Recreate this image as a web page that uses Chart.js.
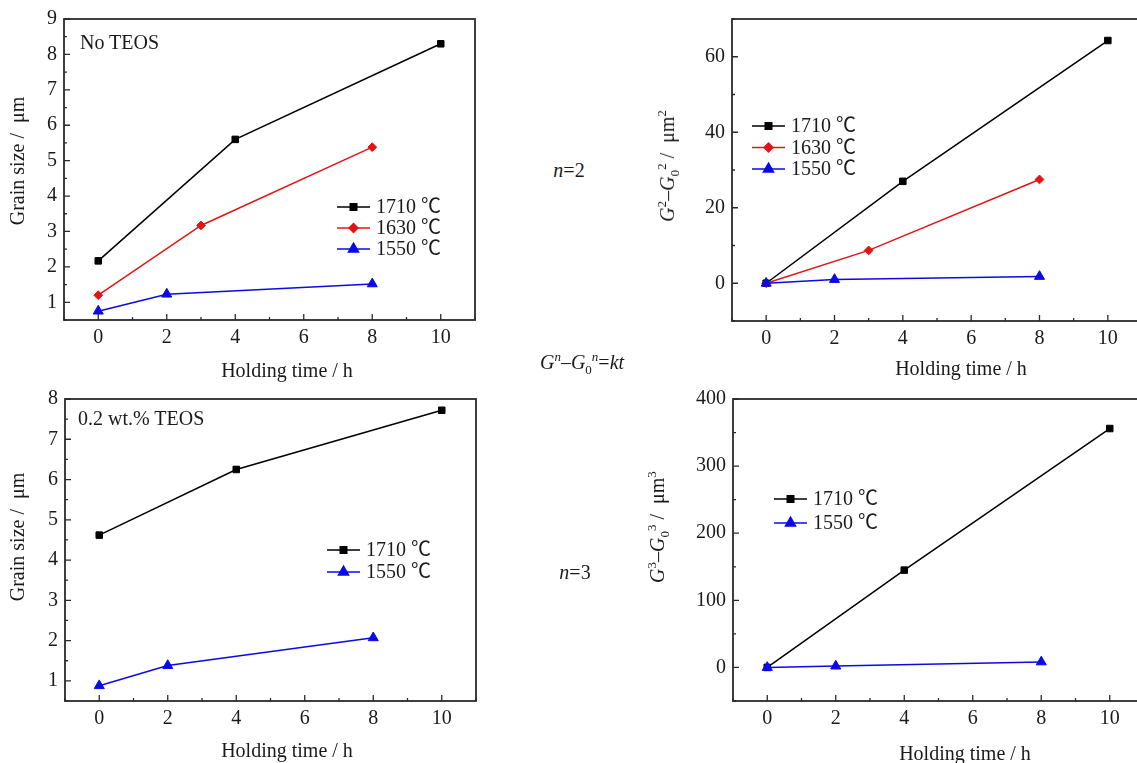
<!DOCTYPE html>
<html>
<head>
<meta charset="utf-8">
<script src="https://cdn.jsdelivr.net/npm/chart.js@4/dist/chart.umd.min.js"></script>
<style>
  html, body { margin: 0; padding: 0; background: #fff; }
  body { position: relative; width: 1137px; height: 763px; overflow: hidden; }
  canvas { position: absolute; }
  .lbl { position: absolute; font: 20px "Liberation Serif", "Noto Sans CJK SC", serif; color: #1a1a1a;
         white-space: nowrap; transform: translate(-50%, -50%); line-height: 1; }
  .rot { transform: translate(-50%, -50%) rotate(-90deg); }
  .left { transform: translate(0, -50%); }
  sup, sub { font-size: 13px; line-height: 0; }
</style>
</head>
<body>
<canvas id="c1" width="490" height="385" style="left:0;top:0"></canvas>
<canvas id="c2" width="520" height="385" style="left:640px;top:0"></canvas>
<canvas id="c3" width="490" height="383" style="left:0;top:380px"></canvas>
<canvas id="c4" width="520" height="383" style="left:640px;top:380px"></canvas>

<!-- axis titles / annotations -->
<div class="lbl rot" style="left:17px;top:161px">Grain size /&nbsp; μm</div>
<div class="lbl rot" style="left:17px;top:537px">Grain size /&nbsp; μm</div>
<div class="lbl rot" style="left:667px;top:166px"><i>G</i><sup>2</sup>–<i>G</i><sub>0</sub><sup>2</sup> /&nbsp; μm<sup>2</sup></div>
<div class="lbl rot" style="left:657px;top:527px"><i>G</i><sup>3</sup>–<i>G</i><sub>0</sub><sup>3</sup> /&nbsp; μm<sup>3</sup></div>
<div class="lbl" style="left:287px;top:370px">Holding time / h</div>
<div class="lbl" style="left:961px;top:368px">Holding time / h</div>
<div class="lbl" style="left:287px;top:750px">Holding time / h</div>
<div class="lbl" style="left:965px;top:753px">Holding time / h</div>
<div class="lbl left" style="left:80px;top:42px">No TEOS</div>
<div class="lbl left" style="left:78px;top:418px">0.2 wt.% TEOS</div>
<div class="lbl" style="left:569px;top:170px"><i>n</i>=2</div>
<div class="lbl" style="left:582px;top:362px"><i>G</i><sup><i>n</i></sup>–<i>G</i><sub>0</sub><sup><i>n</i></sup>=<i>kt</i></div>
<div class="lbl" style="left:575px;top:572px"><i>n</i>=3</div>

<script>
// ═══════════════════════════════════════════════════════════════
//  DATA
// ═══════════════════════════════════════════════════════════════

// top-left: grain size, no TEOS
const T1_1710 = [0, 4, 10], G1_1710 = [2.17, 5.6, 8.3];
const T1_1630 = [0, 3, 8],  G1_1630 = [1.2, 3.17, 5.38];
const T1_1550 = [0, 2, 8],  G1_1550 = [0.75, 1.23, 1.52];

// top-right: G^2 - G0^2
const T2_1710 = [0, 4, 10], D2_1710 = [0, 27, 64.3];
const T2_1630 = [0, 3, 8],  D2_1630 = [0, 8.7, 27.5];
const T2_1550 = [0, 2, 8],  D2_1550 = [0, 1.0, 1.8];

// bottom-left: grain size, 0.2 wt.% TEOS
const T3_1710 = [0, 4, 10], G3_1710 = [4.62, 6.25, 7.72];
const T3_1550 = [0, 2, 8],  G3_1550 = [0.88, 1.38, 2.07];

// bottom-right: G^3 - G0^3
const T4_1710 = [0, 4, 10], D4_1710 = [0, 145, 356];
const T4_1550 = [0, 2, 8],  D4_1550 = [0, 2.0, 8.2];

const X_TICKS  = [0, 2, 4, 6, 8, 10];
const Y1_TICKS = [1, 2, 3, 4, 5, 6, 7, 8, 9];
const Y2_TICKS = [0, 20, 40, 60];
const Y3_TICKS = [1, 2, 3, 4, 5, 6, 7, 8];
const Y4_TICKS = [0, 100, 200, 300, 400];

const LBL_1710 = '1710 ℃';
const LBL_1630 = '1630 ℃';
const LBL_1550 = '1550 ℃';

// ═══════════════════════════════════════════════════════════════
//  STYLES
// ═══════════════════════════════════════════════════════════════

const FONT     = '"Liberation Serif", "Noto Sans CJK SC", serif';
const INK      = '#1a1a1a';
const FRAME    = '#2a2a2a';

const S_1710 = { color: '#000000', pointStyle: 'rect',     pointRadius: 4.6, order: 3 };
const S_1630 = { color: '#e41414', pointStyle: 'rectRot',  pointRadius: 4.4, order: 2 };
const S_1550 = { color: '#0a0ae6', pointStyle: 'triangle', pointRadius: 5.8, order: 1 };

const pts = (xs, ys) => xs.map((x, i) => ({ x, y: ys[i] }));

function series(label, xs, ys, s) {
  return {
    label, data: pts(xs, ys), order: s.order,
    borderColor: s.color, backgroundColor: s.color, borderWidth: 1.5,
    pointStyle: s.pointStyle, pointRadius: s.pointRadius, pointBorderWidth: 1,
    pointBackgroundColor: s.color, pointBorderColor: s.color, tension: 0,
  };
}

// ── frame + inward ticks ─────────────────────────────────────
const framePlugin = {
  id: 'frame',
  afterDraw(chart, args, o) {
    const { ctx, chartArea: a, scales: { x, y } } = chart;
    ctx.save();
    ctx.strokeStyle = FRAME;
    ctx.lineWidth = 1.8;
    ctx.strokeRect(a.left, a.top, a.right - a.left, a.bottom - a.top);
    ctx.lineWidth = 1.3;
    ctx.beginPath();
    for (let v = Math.ceil(x.min / o.xMinor) * o.xMinor; v <= x.max; v += o.xMinor) {
      const px = x.getPixelForValue(v);
      const len = o.xTicks.includes(v) ? 6 : 3;
      ctx.moveTo(px, a.bottom); ctx.lineTo(px, a.bottom - len);
    }
    for (let v = Math.ceil(y.min / o.yMinor) * o.yMinor; v <= y.max + 1e-9; v += o.yMinor) {
      const py = y.getPixelForValue(v);
      const len = o.yTicks.some(t => Math.abs(t - v) < 1e-9) ? 6 : 3;
      ctx.moveTo(a.left, py); ctx.lineTo(a.left + len, py);
    }
    ctx.stroke();
    ctx.restore();
  }
};

// ── legend drawn inside the plot ─────────────────────────────
const inlineLegend = {
  id: 'inlineLegend',
  afterDraw(chart, args, o) {
    const { ctx } = chart;
    ctx.save();
    ctx.font = '20px ' + FONT;
    ctx.textBaseline = 'middle';
    chart.data.datasets.forEach((ds, i) => {
      const yy = o.y + i * o.gap;
      ctx.strokeStyle = ds.borderColor;
      ctx.lineWidth = 1.5;
      ctx.beginPath(); ctx.moveTo(o.x, yy); ctx.lineTo(o.x + 33, yy); ctx.stroke();
      ctx.fillStyle = ds.backgroundColor;
      Chart.helpers.drawPoint(ctx, { pointStyle: ds.pointStyle, radius: ds.pointRadius, borderWidth: 1, rotation: 0 }, o.x + 16.5, yy);
      ctx.fillStyle = INK;
      ctx.fillText(ds.label, o.x + 39, yy + 1);
    });
    ctx.restore();
  }
};

// ═══════════════════════════════════════════════════════════════
//  CHART FACTORY
// ═══════════════════════════════════════════════════════════════

function makeChart(id, cfg) {
  return new Chart(document.getElementById(id), {
    type: 'line',
    data: { datasets: cfg.datasets },
    plugins: [framePlugin, inlineLegend],
    options: {
      responsive: false, animation: false,
      layout: { padding: { left: 0, top: 19, right: cfg.padRight, bottom: 0 } },
      plugins: {
        legend: { display: false }, tooltip: { enabled: false },
        frame: { xTicks: X_TICKS, yTicks: cfg.yTicks, xMinor: 1, yMinor: cfg.yMinor },
        inlineLegend: cfg.legend,
      },
      scales: {
        x: {
          type: 'linear', min: -1, max: 11,
          grid: { display: false, drawTicks: false }, border: { display: false },
          ticks: { color: INK, font: { family: FONT, size: 20 }, padding: 6, maxRotation: 0 },
          afterBuildTicks: s => { s.ticks = X_TICKS.map(v => ({ value: v })); },
          afterFit: s => { s.height = cfg.xH; },
        },
        y: {
          min: cfg.yMin, max: cfg.yMax,
          grid: { display: false, drawTicks: false }, border: { display: false },
          ticks: { color: INK, font: { family: FONT, size: 20 }, padding: 7 },
          afterBuildTicks: s => { s.ticks = cfg.yTicks.map(v => ({ value: v })); },
          afterFit: s => { s.width = cfg.yW; },
        }
      }
    }
  });
}

// ═══════════════════════════════════════════════════════════════
//  CHARTS
// ═══════════════════════════════════════════════════════════════

makeChart('c1', {
  datasets: [
    series(LBL_1710, T1_1710, G1_1710, S_1710),
    series(LBL_1630, T1_1630, G1_1630, S_1630),
    series(LBL_1550, T1_1550, G1_1550, S_1550),
  ],
  yMin: 0.5, yMax: 9, yTicks: Y1_TICKS, yMinor: 0.5,
  yW: 64, xH: 65, padRight: 15,
  legend: { x: 337, y: 207, gap: 21 },
});

makeChart('c2', {
  datasets: [
    series(LBL_1710, T2_1710, D2_1710, S_1710),
    series(LBL_1630, T2_1630, D2_1630, S_1630),
    series(LBL_1550, T2_1550, D2_1550, S_1550),
  ],
  yMin: -10, yMax: 70, yTicks: Y2_TICKS, yMinor: 10,
  yW: 92, xH: 64, padRight: 18,
  legend: { x: 112, y: 126, gap: 21.5 },
});

makeChart('c3', {
  datasets: [
    series(LBL_1710, T3_1710, G3_1710, S_1710),
    series(LBL_1550, T3_1550, G3_1550, S_1550),
  ],
  yMin: 0.5, yMax: 8, yTicks: Y3_TICKS, yMinor: 0.5,
  yW: 65, xH: 62, padRight: 14,
  legend: { x: 327, y: 170, gap: 22 },
});

makeChart('c4', {
  datasets: [
    series(LBL_1710, T4_1710, D4_1710, S_1710),
    series(LBL_1550, T4_1550, D4_1550, S_1550),
  ],
  yMin: -50, yMax: 400, yTicks: Y4_TICKS, yMinor: 50,
  yW: 93, xH: 62, padRight: 16,
  legend: { x: 134, y: 119, gap: 24 },
});
</script>
</body>
</html>
